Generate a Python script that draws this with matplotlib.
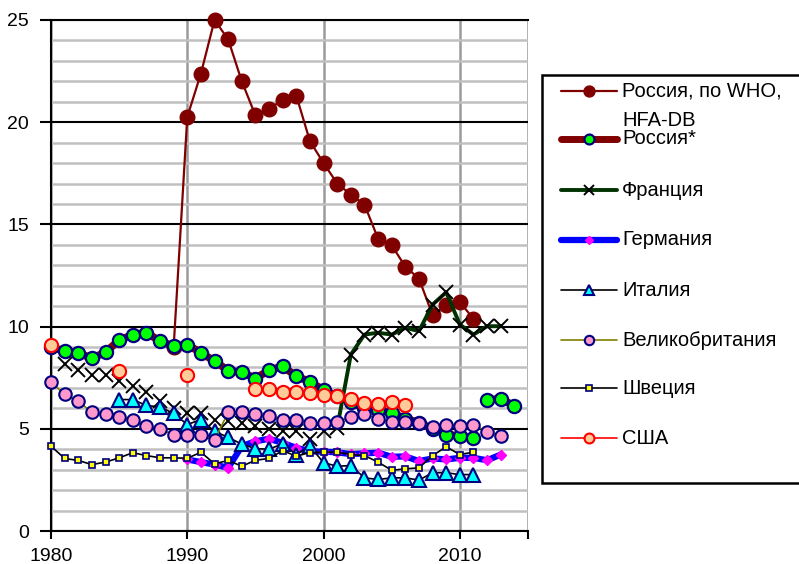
import numpy as np
import matplotlib.pyplot as plt
from matplotlib.lines import Line2D
from matplotlib.patches import Rectangle

plt.rcParams['font.family'] = ['Liberation Sans', 'DejaVu Sans']

nan = np.nan
years = np.arange(1980, 2015)

russia_who = [nan] * 9 + [9.0, 20.26, 22.38, 25.0, 24.05, 22.0, 20.33, 20.65, 21.1, 21.3,
                          19.07, 18.0, 17.0, 16.46, 15.97, 14.3, 13.98, 12.93, 12.35,
                          10.56, 11.08, 11.2, 10.38] + [nan] * 3
russia_star = [9.0, 8.8, 8.72, 8.44, 8.75, 9.33, 9.61, 9.70, 9.29, 9.04,
               9.12, 8.72, 8.31, 7.85, 7.77, 7.46, 7.87, 8.06, 7.57, 7.30,
               6.9, 6.6, 6.3, 6.0, 5.94, 5.78, 5.5, 5.3, 5.0, 4.72,
               4.64, 4.56, 6.40, 6.48, 6.11]
france = [nan, 8.15, 7.90, 7.62, 7.62, 7.33, 7.08, 6.81, 6.35, 6.03,
          5.78, 5.75, 5.45, 5.37, 5.29, 5.13, 4.97, 4.88, 4.88, 4.48,
          4.88, 5.05, 8.63, 9.61, 9.70, 9.61, 9.94, 9.78, 11.08, 11.68,
          10.1, 9.61, 10.02, 10.02, nan]
germany = [nan] * 10 + [3.5, 3.37, 3.25, 3.09, 4.15, 4.39, 4.51, 4.31, 4.07, 3.90,
                        3.88, 3.85, 3.76, 3.80, 3.83, 3.63, 3.65, 3.42, 3.55, 3.50,
                        3.58, 3.58, 3.46, 3.74, nan]
italy = [nan] * 5 + [6.43, 6.43, 6.14, 6.07, 5.75,
                     5.21, 5.45, 4.88, 4.58, 4.25, 4.03, 4.0, 4.27, 3.74, 4.15,
                     3.34, 3.17, 3.2, 2.60, 2.52, 2.60, 2.6, 2.49, 2.85, 2.85,
                     2.76, 2.76] + [nan] * 3
uk = [7.30, 6.68, 6.35, 5.81, 5.70, 5.59, 5.42, 5.13, 4.97, 4.72,
      4.72, 4.72, 4.46, 5.80, 5.80, 5.70, 5.61, 5.43, 5.43, 5.30,
      5.30, 5.32, 5.59, 5.73, 5.49, 5.32, 5.32, 5.29, 5.10, 5.21,
      5.13, 5.21, 4.85, 4.67, nan]
sweden = [4.15, 3.55, 3.45, 3.25, 3.37, 3.58, 3.83, 3.69, 3.58, 3.58,
          3.56, 3.85, 3.29, 3.45, 3.17, 3.46, 3.55, 3.93, 3.66, 3.84,
          3.85, 3.86, 3.74, 3.69, 3.37, 2.97, 3.04, 3.09, 3.69, 4.12,
          3.74, 3.86, nan, nan, nan]
usa = [9.12] + [nan] * 4 + [7.82] + [nan] * 4 + [7.61] + [nan] * 4 + \
      [6.97, 6.97, 6.81, 6.81, 6.76, 6.64, 6.59, 6.47, 6.27, 6.19, 6.30, 6.14] + [nan] * 8

labels = ["Россия, по WHO,\nHFA-DB", "Россия*", "Франция", "Германия",
          "Италия", "Великобритания", "Швеция", "США"]

russia_who = np.array(russia_who)
russia_star = np.array(russia_star)
france = np.array(france)

W, H = 799, 564
fig = plt.figure(figsize=(W / 100, H / 100), dpi=100)
ax = fig.add_axes([51 / W, 33 / H, 477 / W, 511 / H])

# styles per series: line + marker
NAVY = '#000080'
styles = [
    dict(color='#800000', lw=1.6, marker='o', ms=10.5, mfc='#800000', mec='#800000', mew=1),
    dict(color='#800000', lw=5.5, marker='o', ms=9.5, mfc='#00ff00', mec=NAVY, mew=1.6),
    dict(color='#003300', lw=2.8, marker='x', ms=9.5, mfc='black', mec='black', mew=1.4),
    dict(color='#0000ff', lw=4.5, marker='D', ms=5.5, mfc='#ff00ff', mec='#ff00ff', mew=1),
    dict(color='black', lw=1.2, marker='^', ms=9.5, mfc='#00ffff', mec=NAVY, mew=1.5),
    dict(color='#808000', lw=1.2, marker='o', ms=9, mfc='#ff99cc', mec=NAVY, mew=1.5),
    dict(color='black', lw=1.2, marker='s', ms=5, mfc='#ffff00', mec=NAVY, mew=1.2),
    dict(color='#ff0000', lw=1.2, marker='o', ms=9.5, mfc='#ffcc99', mec='#ff0000', mew=1.5),
]

z = 3
ax.plot(years, russia_who, clip_on=False, zorder=z, **styles[0])

# Russia*: break between 2011 and 2012
s = styles[1]
first = years <= 2011
ax.plot(years[first], russia_star[first], color=s['color'], lw=s['lw'], zorder=z + 1,
        solid_capstyle='round', clip_on=False)
ax.plot(years[~first], russia_star[~first], color=s['color'], lw=s['lw'], zorder=z + 1,
        solid_capstyle='round', clip_on=False)
ax.plot(years, russia_star, ls='none', marker=s['marker'], ms=s['ms'], mfc=s['mfc'],
        mec=s['mec'], mew=s['mew'], zorder=z + 1, clip_on=False)

# France: line only from 2001
s = styles[2]
late = years >= 2001
ax.plot(years[late], france[late], color=s['color'], lw=s['lw'], zorder=z + 2, clip_on=False)
ax.plot(years, france, ls='none', marker='x', ms=s['ms'], mec='black', mew=s['mew'],
        zorder=z + 2, clip_on=False)

for i, data in enumerate([germany, italy, uk, sweden, usa]):
    ax.plot(years, data, clip_on=False, zorder=z + 3 + i, **styles[3 + i])

ax.set_xlim(1980, 2015)
ax.set_ylim(0, 25)
ax.set_xticks([1980, 1990, 2000, 2010, 2015])
ax.set_xticklabels(['1980', '1990', '2000', '2010', ''])
ax.set_yticks(range(0, 26, 5))
ax.set_yticks(range(0, 26), minor=True)
ax.tick_params(axis='both', labelsize=14, width=1.5, color='black')
ax.tick_params(axis='x', length=6, pad=6)
ax.tick_params(axis='y', which='major', length=8, pad=8)
ax.tick_params(axis='y', which='minor', length=0)

ax.grid(axis='y', which='minor', color='#c0c0c0', lw=1.8, zorder=0)
ax.grid(axis='y', which='major', color='black', lw=1.5, zorder=1)
ax.grid(axis='x', which='major', color='#9a9a9a', lw=1.8, zorder=0)
ax.set_axisbelow(True)
ax.spines['right'].set_visible(False)
for side in ['left', 'bottom', 'top']:
    ax.spines[side].set_linewidth(1.5)

# legend box drawn in pixel positions
def fx(x):
    return x / W

def fy(y):
    return 1 - y / H

fig.add_artist(Rectangle((fx(542), fy(483)), fx(820) - fx(542), fy(75) - fy(483),
                         facecolor='white', edgecolor='black', lw=1.8, zorder=10))

rows = [91, 139, 190, 240, 290, 340, 388, 438]
for i, (lab, y0) in enumerate(zip(labels, rows)):
    s = styles[i]
    fig.add_artist(Line2D([fx(561), fx(617)], [fy(y0), fy(y0)], color=s['color'],
                          lw=min(s['lw'], 5), solid_capstyle='round', zorder=11))
    fig.add_artist(Line2D([fx(589)], [fy(y0)], ls='none', marker=s['marker'],
                          ms=s['ms'] * 0.75, mfc=s['mfc'], mec=s['mec'],
                          mew=s['mew'], zorder=12))
    for j, part in enumerate(lab.split('\n')):
        fig.text(fx(622), fy(y0 + j * 29), part, fontsize=14.5, va='center', ha='left',
                 zorder=13)

fig.savefig('out.png', dpi=100)
